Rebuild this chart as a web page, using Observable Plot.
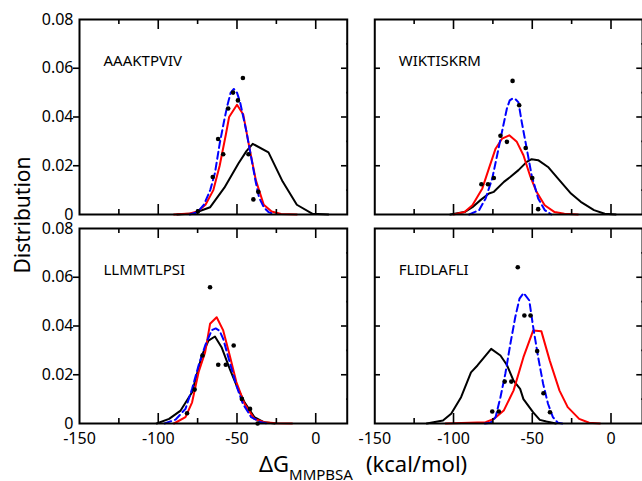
<!DOCTYPE html>
<html><head><meta charset="utf-8">
<script src="https://cdn.jsdelivr.net/npm/d3@7"></script>
<script src="https://cdn.jsdelivr.net/npm/@observablehq/plot@0.6"></script>
<style>
html,body{margin:0;padding:0;background:#fff;overflow:hidden;}
#wrap{position:relative;width:642px;height:481px;overflow:hidden;background:#fff;}
.ttl{position:absolute;font-family:"Noto Sans";color:#000;white-space:nowrap;line-height:1;}
</style></head><body>
<div id="wrap"><div id="chart"></div>
<div class="ttl" id="ytitle" style="font-size:21px;left:22px;top:215px;transform:translate(-50%,-50%) rotate(-90deg);">Distribution</div>
<div class="ttl" id="xtitle" style="font-size:22px;left:259px;top:452px;">ΔG<span style="font-size:15px;position:relative;top:8px;">MMPBSA</span><span style="display:inline-block;width:13px"></span>(kcal/mol)</div>
</div>
<script>
// Panel names (sequences)
const sequences = ["AAAKTPVIV", "WIKTISKRM", "LLMMTLPSI", "FLIDLAFLI"];

// Axis ticks and labels
const xMajor = [-100, -50, 0];
const xMinor = [-125, -75, -25];
const xLabelValues = [-150, -100, -50, 0];
const xTickLabels = ["-150", "-100", "-50", "0"];
const yMajor = [0.02, 0.04, 0.06];
const yMinor = [0.01, 0.03, 0.05, 0.07];
const yLabelValues = [0, 0.02, 0.04, 0.06, 0.08];
const yTickLabels = ["0", "0.02", "0.04", "0.06", "0.08"];

// AAAKTPVIV
const p1Black = [[-88,0],[-78,0.0004],[-67,0.003],[-58,0.011],[-49,0.021],[-44,0.026],[-40,0.029],[-30,0.0255],[-21,0.0135],[-12,0.004],[-2,0.0003],[8,0]];
const p1Red = [[-90,0],[-80,0.0004],[-75,0.0012],[-70,0.004],[-65,0.010],[-61,0.020],[-57,0.033],[-55,0.040],[-50,0.045],[-46,0.041],[-42,0.027],[-38,0.014],[-33,0.004],[-28,0.0012],[-22,0.0002],[-12,0]];
const p1Blue = [[-80,0],[-75,0.001],[-71,0.004],[-67,0.010],[-64,0.017],[-61,0.029],[-58,0.039],[-56,0.045],[-54,0.050],[-52,0.0515],[-50,0.050],[-48,0.046],[-46,0.040],[-44,0.034],[-42,0.027],[-40,0.020],[-38,0.013],[-36,0.007],[-33,0.003],[-30,0.001],[-26,0]];
const p1Dots = [[-74.8,0.0013],[-65.4,0.0154],[-62,0.031],[-58.75,0.0247],[-55.6,0.0435],[-52.5,0.050],[-49.4,0.0468],[-46.25,0.056],[-42.7,0.0247],[-39.6,0.0062],[-36.5,0.0093]];

// WIKTISKRM
const p2Black = [[-102,0],[-93,0.001],[-88,0.003],[-82.7,0.006],[-77.5,0.0086],[-74.4,0.0093],[-68,0.0134],[-64,0.0154],[-58.75,0.0182],[-53.5,0.0216],[-50.4,0.0227],[-46.25,0.0223],[-40,0.0195],[-33.75,0.0148],[-25.4,0.0086],[-19.2,0.0052],[-10.8,0.0018],[-4,0.0003],[3,0]];
const p2Red = [[-100,0],[-93,0.001],[-88,0.0038],[-81.7,0.0107],[-77.5,0.0189],[-73.3,0.027],[-69.2,0.0311],[-64.6,0.0325],[-59.8,0.0298],[-55.6,0.0243],[-51.5,0.0161],[-47.3,0.0093],[-42.1,0.0038],[-35.8,0.001],[-29.6,0.0003],[-21,0]];
const p2Blue = [[-90,0],[-83.75,0.0018],[-79.6,0.0066],[-75.4,0.0148],[-72.3,0.0243],[-69.2,0.034],[-66.1,0.0435],[-64.3,0.0468],[-62.5,0.0476],[-60.5,0.0472],[-58.75,0.046],[-56.7,0.038],[-53.5,0.027],[-50.4,0.0161],[-46.25,0.0066],[-42.1,0.0018],[-37.9,0]];
const p2Dots = [[-82.3,0.0124],[-78.1,0.0124],[-74.4,0.015],[-70.2,0.0323],[-66.1,0.0298],[-62.5,0.0548],[-58.3,0.0448],[-54.2,0.0273],[-50,0.015],[-46.25,0.0022]];

// LLMMTLPSI
const p3Black = [[-101,0],[-93.1,0.0019],[-85.8,0.0053],[-78.5,0.0128],[-72.3,0.0279],[-68.1,0.034],[-64,0.0357],[-59.8,0.0313],[-54.6,0.0224],[-49.4,0.0142],[-45.2,0.0087],[-39,0.0026],[-32.7,0.0005],[-26,0]];
const p3Red = [[-90,0],[-82.7,0.0026],[-78.5,0.0087],[-74.4,0.021],[-70.2,0.0293],[-67.1,0.0409],[-62.9,0.0436],[-58.75,0.0382],[-54.6,0.0279],[-50.4,0.017],[-45.2,0.0081],[-39,0.0019],[-32.7,0.0005],[-25,0.0001],[-15,0]];
const p3Blue = [[-96,0],[-89,0.0016],[-82.7,0.006],[-78.5,0.0142],[-74.4,0.0238],[-70.2,0.032],[-66,0.0383],[-63.5,0.039],[-61,0.038],[-58.75,0.0347],[-54.6,0.0251],[-50.4,0.0156],[-46.25,0.0081],[-41,0.0026],[-35,0.0005],[-30,0]];
const p3Dots = [[-81.7,0.0042],[-76.9,0.0139],[-71.9,0.0279],[-67.1,0.0559],[-61.9,0.0241],[-57.1,0.0241],[-52.1,0.032],[-46.9,0.0101],[-41.7,0.006],[-36.9,0]];

// FLIDLAFLI
const p4Black = [[-117,0],[-106.7,0.0012],[-101.5,0.0040],[-95.2,0.0108],[-88.9,0.021],[-84.8,0.0238],[-76.1,0.0306],[-70.2,0.0279],[-66.1,0.0240],[-61.9,0.0176],[-57.7,0.0142],[-55.6,0.0100],[-49.4,0.0046],[-45.2,0.0015],[-41,0.0008],[-35,0]];
const p4Red = [[-105,0],[-79.6,0.0005],[-74.4,0.0019],[-68.1,0.0053],[-61.9,0.0135],[-55.6,0.0272],[-49.4,0.0382],[-44.2,0.0378],[-38.9,0.0258],[-32.7,0.0135],[-27.5,0.0067],[-20.2,0.0019],[-13.9,0.0003],[-7,0]];
const p4Blue = [[-80,0],[-76.5,0.0003],[-73.3,0.0026],[-70.2,0.0108],[-67.1,0.0204],[-63.9,0.0327],[-60.8,0.0436],[-58.1,0.0512],[-55.5,0.0535],[-51.9,0.0505],[-49.4,0.0395],[-46.25,0.0272],[-43.1,0.0163],[-40,0.0081],[-36.9,0.0026],[-33.75,0.0003],[-31,0]];
const p4Dots = [[-75.4,0.0049],[-71.25,0.0049],[-67.5,0.0172],[-63.3,0.0172],[-59.2,0.0641],[-55,0.0443],[-51.1,0.0443],[-46.9,0.0297],[-42.9,0.0124],[-38.75,0.0046]];

const blackSeries = [p1Black, p2Black, p3Black, p4Black];
const redSeries = [p1Red, p2Red, p3Red, p4Red];
const blueSeries = [p1Blue, p2Blue, p3Blue, p4Blue];
const dotSeries = [p1Dots, p2Dots, p3Dots, p4Dots];

function toRows(list, series) {
  const out = [];
  list.forEach((pts, i) => pts.forEach(([x, y]) => out.push({panel: sequences[i], col: i % 2, row: Math.floor(i / 2), series, x, y})));
  return out;
}
const blackRows = toRows(blackSeries, "black");
const redRows = toRows(redSeries, "red");
const blueRows = toRows(blueSeries, "blue");
const dotRows = toRows(dotSeries, "dots");
const panelRows = sequences.map((name, i) => ({name, col: i % 2, row: Math.floor(i / 2)}));
const rightColRows = yMajor.flatMap(v => [{v, col: 1, row: 0}, {v, col: 1, row: 1}]);

const PW = 272, PH = 195, MAJ = 10, MIN = 5;
const tk = {stroke: "#000", strokeWidth: 1.6};
const chart = Plot.plot({
  width: 642, height: 481,
  marginLeft: 79, marginRight: -9, marginTop: 19, marginBottom: 58,
  style: {fontFamily: "Noto Sans", fontSize: "16px", color: "#000", background: "#fff"},
  facet: {marginTop: 0, marginRight: 0, marginBottom: 0, marginLeft: 0},
  x: {domain: [-150, 20], axis: null},
  y: {domain: [0, 0.08], axis: null},
  fx: {domain: [0, 1], axis: null, paddingInner: 0.0933, paddingOuter: 0, round: false},
  fy: {domain: [0, 1], axis: null, paddingInner: 0.067, paddingOuter: 0, round: false},
  marks: [
    Plot.line(blackRows, {x: "x", y: "y", fx: "col", fy: "row", z: "panel", stroke: "#000", strokeWidth: 2}),
    Plot.line(redRows, {x: "x", y: "y", fx: "col", fy: "row", z: "panel", stroke: "#ff0000", strokeWidth: 2}),
    Plot.line(blueRows, {x: "x", y: "y", fx: "col", fy: "row", z: "panel", stroke: "#0000ff", strokeWidth: 2, strokeDasharray: "7,4"}),
    Plot.dot(dotRows, {x: "x", y: "y", fx: "col", fy: "row", r: 2.3, fill: "#000", stroke: "none"}),
    Plot.text(panelRows, {text: "name", fx: "col", fy: "row", frameAnchor: "top-left", textAnchor: "start", dx: 24, dy: 36, fontSize: 15, fill: "#000"}),
    // inward ticks on every panel
    Plot.tickX(xMajor, {...tk, x: d => d, insetTop: PH - MAJ}),
    Plot.tickX(xMinor, {...tk, x: d => d, insetTop: PH - MIN}),
    Plot.tickX(xMajor, {...tk, x: d => d, insetBottom: PH - MAJ}),
    Plot.tickX(xMinor, {...tk, x: d => d, insetBottom: PH - MIN}),
    Plot.tickY(yMajor, {...tk, y: d => d, insetLeft: PW - MAJ}),
    Plot.tickY(yMinor, {...tk, y: d => d, insetLeft: PW - MIN}),
    Plot.tickY(yMinor, {...tk, y: d => d, insetRight: PW - MIN}),
    Plot.tickY(rightColRows, {...tk, y: "v", fx: "col", fy: "row", insetRight: PW - MAJ}),
    // outward major ticks and labels on the left column
    Plot.axisY({...tk, ticks: yMajor, anchor: "left", tickSize: 6, tickFormat: () => "", facetAnchor: "left", label: null}),
    Plot.axisY({ticks: yLabelValues, anchor: "left", tickSize: 0, tickPadding: 6, facetAnchor: "left", label: null, fontSize: 16,
      tickFormat: d => yTickLabels[yLabelValues.indexOf(d)]}),
    Plot.axisX({ticks: xLabelValues, anchor: "bottom", tickSize: 0, tickPadding: 9, facetAnchor: "bottom", label: null, fontSize: 16,
      tickFormat: d => xTickLabels[xLabelValues.indexOf(d)]}),
    Plot.frame({stroke: "#000", strokeWidth: 2})
  ]
});
document.getElementById("chart").appendChild(chart);
</script>
</body></html>
